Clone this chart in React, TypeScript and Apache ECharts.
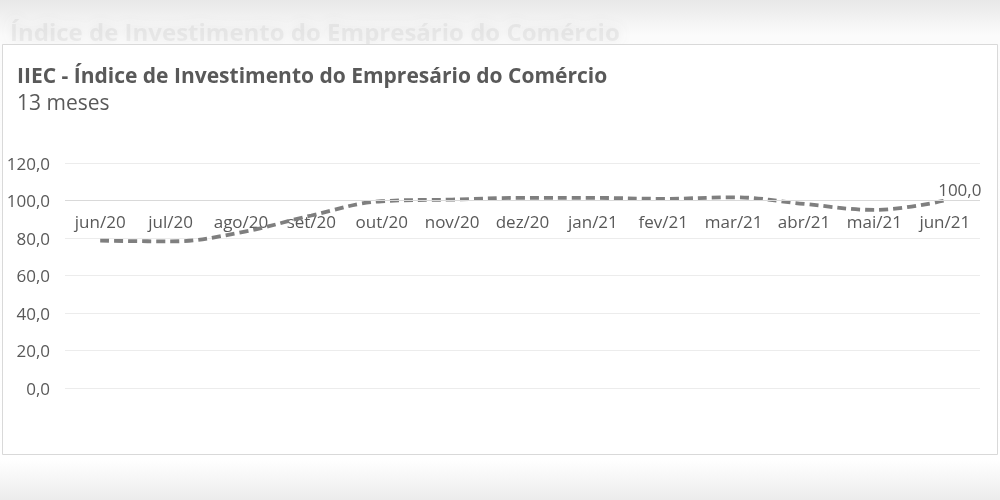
import React, { useEffect, useRef } from 'react';
import * as echarts from 'echarts';

const meses = ['jun/20', 'jul/20', 'ago/20', 'set/20', 'out/20', 'nov/20', 'dez/20', 'jan/21', 'fev/21', 'mar/21', 'abr/21', 'mai/21', 'jun/21'];
const iiec = [78.6, 78.2, 83.0, 92.0, 99.6, 100.5, 101.4, 101.4, 100.9, 101.7, 98.2, 95.0, 100.0];
const eixoY = { min: 0, max: 120, step: 20 };
const linhaBase = 100; // o eixo horizontal cruza em 100

const FONT = '"Open Sans", "Noto Sans", sans-serif';
const CINZA = '#595959';

const fmt = (v: number) => v.toFixed(1).replace('.', ',');

const App: React.FC = () => {
  const chartRef: any = useRef(null);

  useEffect(() => {
    const chart = echarts.init(chartRef.current, null, { renderer: 'svg' });
    const option: any = {
      animation: false,
      backgroundColor: 'transparent',
      textStyle: { fontFamily: FONT },
      // fundo: faixa de cima, caixa branca e faixa de baixo
      graphic: [
        {
          type: 'rect', z: -20, silent: true,
          shape: { x: 0, y: 0, width: 1000, height: 500 },
          style: {
            fill: new echarts.graphic.LinearGradient(0, 0, 0, 1, [
              { offset: 0, color: '#e8e8e8' },
              { offset: 0.07, color: '#fbfbfb' },
              { offset: 0.92, color: '#ffffff' },
              { offset: 1, color: '#ececec' }
            ])
          }
        },
        {
          type: 'text', z: -15, silent: true, left: 10, top: 19,
          style: {
            text: 'Índice de Investimento do Empresário do Comércio',
            font: 'bold 24px ' + FONT,
            fill: 'rgba(170,170,170,0.18)',
            textShadowColor: 'rgba(130,130,130,1)',
            textShadowBlur: 12
          }
        },
        {
          type: 'rect', z: -10, silent: true,
          shape: { x: 2.5, y: 44.5, width: 995, height: 410 },
          style: { fill: '#ffffff', stroke: '#d9d9d9', lineWidth: 1 }
        }
      ],
      title: {
        text: 'IIEC - Índice de Investimento do Empresário do Comércio',
        subtext: '13 meses',
        left: 12,
        top: 59,
        itemGap: 6,
        textStyle: { fontFamily: FONT, fontSize: 21, fontWeight: 'bold', color: CINZA },
        subtextStyle: { fontFamily: FONT, fontSize: 21, color: CINZA }
      },
      grid: { left: 65, right: 20, top: 163, bottom: 112, containLabel: false },
      xAxis: {
        type: 'category',
        data: meses,
        boundaryGap: true,
        offset: -188,
        axisLine: { show: false },
        axisTick: { show: false },
        axisLabel: { color: CINZA, fontSize: 17, fontFamily: FONT, margin: 13, interval: 0 }
      },
      yAxis: {
        type: 'value',
        min: eixoY.min,
        max: eixoY.max,
        interval: eixoY.step,
        axisLine: { show: false },
        axisTick: { show: false },
        splitLine: { lineStyle: { color: '#ececec' } },
        axisLabel: { color: CINZA, fontSize: 17, fontFamily: FONT, margin: 15, formatter: (v: number) => fmt(v) }
      },
      series: [
        {
          type: 'line',
          data: iiec.map((v, i) =>
            i === iiec.length - 1
              ? {
                  value: v,
                  symbol: 'circle',
                  symbolSize: 1,
                  itemStyle: { color: 'rgba(0,0,0,0)' },
                  label: { show: true, position: 'top', offset: [15, 3], formatter: (p: any) => fmt(p.value), color: CINZA, fontSize: 17, fontFamily: FONT }
                }
              : v
          ),
          smooth: 0.4,
          symbol: 'none',
          lineStyle: { color: '#7f7f7f', width: 3.8, type: [9, 5] },
          markLine: {
            silent: true,
            symbol: 'none',
            label: { show: false },
            lineStyle: { color: '#d9d9d9', width: 1, type: 'solid' },
            data: [{ yAxis: linhaBase }]
          }
        }
      ]
    };
    chart.setOption(option);
    return () => {
      chart.dispose();
    };
  }, []);

  return <div ref={chartRef} style={{ position: 'fixed', left: 0, top: 0, width: 1000, height: 500 }}></div>;
};

export default App;
